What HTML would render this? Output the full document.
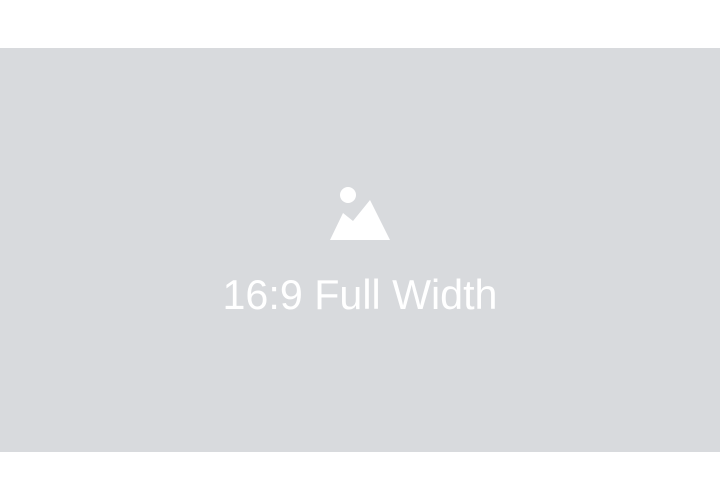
<!DOCTYPE html>
<html><head><meta charset="utf-8"><style>
html,body{margin:0;padding:0;background:#fff;width:720px;height:502px;overflow:hidden}
</style></head><body>
<svg width="720" height="502" viewBox="0 0 720 502">
<rect x="0" y="48" width="720" height="404" fill="#d8dadd"/>
<g fill="#fff">
<circle cx="348" cy="195" r="8"/>
<path d="M330 240 L343 213 L353 221 L370 200 L390 240 Z"/>
</g>
<text x="360" y="309" text-anchor="middle" font-family="'Liberation Sans',sans-serif" font-size="42" fill="#fff" textLength="275" lengthAdjust="spacingAndGlyphs">16:9 Full Width</text>
</svg>
</body></html>
